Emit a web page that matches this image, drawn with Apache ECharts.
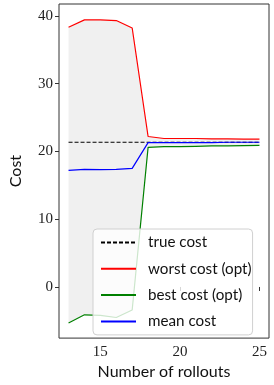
<!DOCTYPE html>
<html>
<head>
<meta charset="utf-8">
<script src="https://cdn.jsdelivr.net/npm/echarts@6/dist/echarts.min.js"></script>
<style>html,body{margin:0;padding:0;background:#fff;}#c{width:274px;height:385px;}</style>
</head>
<body>
<div id="c"></div>
<script>
var rollouts = [13, 14, 15, 16, 17, 18, 19, 20, 21, 22, 23, 24, 25];
var worstCost = [38.3, 39.4, 39.4, 39.3, 38.2, 22.2, 21.9, 21.9, 21.9, 21.85, 21.85, 21.8, 21.8];
var bestCost = [-5.3, -4.1, -4.2, -4.5, -3.4, 20.6, 20.7, 20.7, 20.75, 20.8, 20.8, 20.85, 20.9];
var meanCost = [17.2, 17.35, 17.3, 17.35, 17.5, 21.3, 21.3, 21.3, 21.3, 21.3, 21.35, 21.35, 21.35];
var trueCost = 21.35;
var xTicks = [15, 20, 25];
var yTicks = [0, 10, 20, 30, 40];

function pairs(ys) { return rollouts.map(function (x, i) { return [x, ys[i]]; }); }
var trueLine = rollouts.map(function (x) { return [x, trueCost]; });
var bandData = rollouts.map(function (x, i) { return [x, bestCost[i], worstCost[i]]; });

var chart = echarts.init(document.getElementById('c'), null, {renderer: 'canvas'});
var tickFont = {fontFamily: 'Liberation Serif', fontSize: 15, color: '#222'};
chart.setOption({
  animation: false,
  grid: {left: 43, right: 5, top: 4, bottom: 43, show: true, borderColor: '#333', borderWidth: 1, backgroundColor: '#fff'},
  xAxis: {
    type: 'value', min: 12.4, max: 25.6,
    name: 'Number of rollouts', nameLocation: 'middle', nameGap: 22,
    nameTextStyle: {fontFamily: 'Lato', fontSize: 16, color: '#111'},
    splitLine: {show: false},
    axisLine: {show: false},
    axisTick: {show: true, inside: false, length: 4, customValues: xTicks, lineStyle: {color: '#333'}},
    axisLabel: Object.assign({customValues: xTicks, margin: 6}, tickFont)
  },
  yAxis: {
    type: 'value', min: -7.54, max: 41.74,
    name: 'Cost', nameLocation: 'middle', nameGap: 35,
    nameTextStyle: {fontFamily: 'Lato', fontSize: 16, color: '#111'},
    splitLine: {show: false},
    axisLine: {show: false},
    axisTick: {show: true, inside: false, length: 4, customValues: yTicks, lineStyle: {color: '#333'}},
    axisLabel: Object.assign({customValues: yTicks, margin: 6}, tickFont)
  },
  legend: {
    orient: 'vertical', left: 93, top: 229,
    padding: [6, 1, 6, 7],
    itemWidth: 35, itemHeight: 14, itemGap: 11.3,
    itemStyle: {opacity: 0},
    backgroundColor: 'rgba(255,255,255,0.8)', borderColor: '#d0d0d0', borderWidth: 1, borderRadius: 4,
    textStyle: {fontFamily: 'Lato', fontSize: 15.2, lineHeight: 14, color: '#111', padding: [0, 0, 0, 7]},
    data: ['true cost', 'worst cost (opt)', 'best cost (opt)', 'mean cost']
  },
  series: [
    {
      name: 'band', type: 'custom', silent: true, z: 1,
      data: [0],
      renderItem: function (params, api) {
        var pts = [];
        for (var i = 0; i < bandData.length; i++) pts.push(api.coord([bandData[i][0], bandData[i][2]]));
        for (var j = bandData.length - 1; j >= 0; j--) pts.push(api.coord([bandData[j][0], bandData[j][1]]));
        return {type: 'polygon', shape: {points: pts}, style: {fill: '#f0f0f0'}};
      }
    },
    {name: 'true cost', type: 'line', data: trueLine, symbol: 'none', lineStyle: {color: '#000', width: 1.2, type: [4, 2]}, itemStyle: {color: '#000'}, z: 3},
    {name: 'worst cost (opt)', type: 'line', data: pairs(worstCost), symbol: 'none', lineStyle: {color: '#ff0000', width: 1.2}, itemStyle: {color: '#ff0000'}, z: 3},
    {name: 'best cost (opt)', type: 'line', data: pairs(bestCost), symbol: 'none', lineStyle: {color: '#008000', width: 1.2}, itemStyle: {color: '#008000'}, z: 3},
    {name: 'mean cost', type: 'line', data: pairs(meanCost), symbol: 'none', lineStyle: {color: '#0000ff', width: 1.2}, itemStyle: {color: '#0000ff'}, z: 3}
  ]
});
</script>
</body>
</html>
